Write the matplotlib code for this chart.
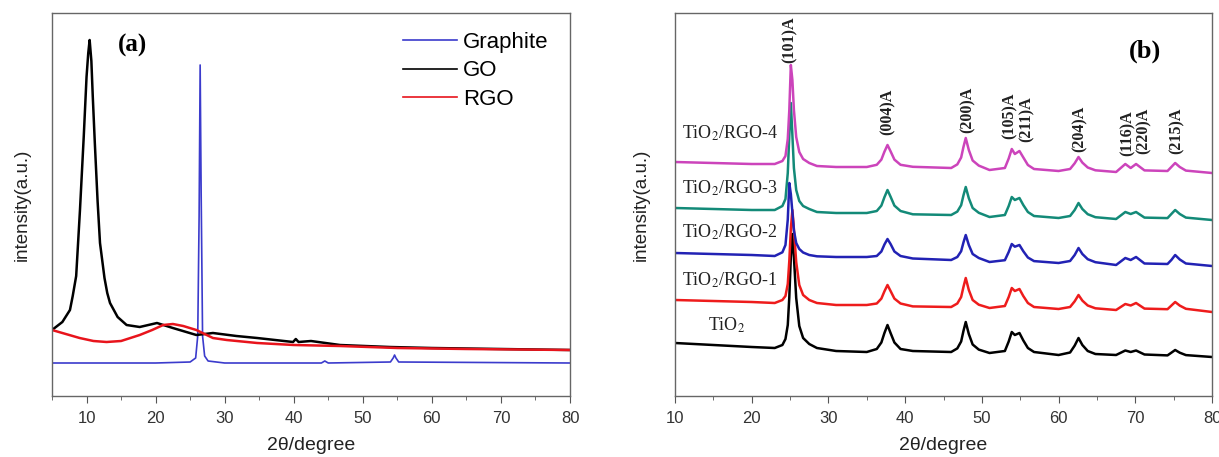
import numpy as np
import matplotlib.pyplot as plt

plt.rcParams['font.family'] = ['Liberation Sans', 'DejaVu Sans']
plt.rcParams['mathtext.fontset'] = 'stix'

# ---- panel (a) data: intensity (arb. units) ----
graphite_x = [5, 20, 25, 25.8, 26.1, 26.3, 26.45, 26.6, 26.8, 27.1, 27.6, 30,
              44, 44.5, 45, 54, 54.4, 54.6, 54.8, 55.2, 80]
graphite_y = [33, 33, 34, 38, 60, 180, 331, 200, 60, 40, 35, 33,
              33, 35, 33, 34, 38, 41, 38, 34, 33]

go_x = [5, 6.5, 7.6, 8.0, 8.5, 9.05, 9.6, 10.0, 10.25, 10.45, 10.7, 10.9, 11.2,
        11.6, 11.95, 12.6, 13.0, 13.4, 14.5, 15.8, 17.7, 20.2, 22.5, 25.9, 28.3,
        31.7, 34.7, 39.9, 40.3, 40.7, 42.5, 46.7, 53.9, 60, 70, 80]
go_y = [66, 74, 86, 100, 120, 186, 260, 319, 343, 356, 335, 300, 253,
        195, 153, 118, 103, 93, 79, 71, 69, 73, 68, 61, 63,
        60, 58, 54, 57, 54, 55, 51, 49, 48, 47, 46]

rgo_x = [5, 7, 9, 11, 12.9, 15, 17.7, 19.5, 21.1, 22.5, 24, 25.9, 28.3, 30.3,
         34.7, 40, 46.7, 55, 65, 80]
rgo_y = [66, 62, 58, 55, 54, 55, 61, 66, 71, 72, 70, 66, 58, 56,
         53, 51, 50, 48, 47, 46]

# ---- panel (b) data: stacked XRD patterns ----
xb = [10, 15, 20, 23, 24, 24.4, 24.7, 24.9, 25.1, 25.3, 25.5, 25.8, 26.2, 26.7,
      27.5, 28.5, 31, 35, 36.3, 36.9, 37.3, 37.7, 38.1, 38.6, 39.4, 41, 46,
      46.8, 47.3, 47.6, 47.9, 48.3, 48.8, 49.6, 51, 53.0, 53.5, 53.9, 54.3,
      54.9, 55.4, 56.0, 56.8, 60, 61.5, 62.1, 62.6, 63.1, 63.8, 64.8, 67.5,
      68.7, 69.4, 70.1, 71.2, 74.2, 74.7, 75.2, 75.8, 76.6, 80]

tio2 = [53, 51, 49, 48, 51, 57, 71, 99, 139, 162, 139, 98, 70, 58,
        52, 48, 45, 44, 47, 53.5, 63, 71, 63, 53.5, 47, 45, 44,
        47.6, 54.5, 65, 74, 62, 51.5, 46.4, 43, 45, 54.5, 64, 61,
        63, 55.6, 48, 44, 41, 43.5, 50.4, 58, 51, 45, 42, 41,
        45.5, 44, 45.5, 41.5, 40.6, 43.3, 46, 43.3, 40.9, 39]
rgo1 = [96, 95, 94, 93, 96, 100, 112, 135, 167, 186, 167, 134, 111, 101,
        96, 93, 91, 91, 92.5, 97.4, 104.7, 111, 105, 97.4, 92.5, 89.6, 89,
        92.5, 99, 109, 118, 106, 96, 91.3, 88, 90, 99, 108, 105,
        107, 100, 93, 89, 87, 89, 94.7, 101, 95.4, 90.5, 87.7, 86,
        92, 90.5, 93, 87.4, 86.8, 90.4, 94, 90.4, 87.2, 84]
rgo2 = [143, 142, 141, 140, 143.7, 151, 176.5, 213, 202, 184, 165.5, 153, 147, 143.5,
        141, 139.7, 139, 139, 140, 144.5, 151.5, 157, 152, 144.5, 140, 137.5, 136,
        139, 144.8, 153.5, 161, 151, 142, 138, 134, 135.8, 144, 152, 149.3,
        151, 144.8, 138.5, 134.9, 133, 135, 141, 148, 142, 136.8, 133.8, 131,
        138, 136, 139, 132.5, 132, 136, 141, 136.5, 132.5, 130]
rgo3 = [188, 187, 186, 186, 190, 197, 223, 261, 293, 261, 228, 206, 195, 190,
        187, 184, 183, 183, 185, 190.4, 198.8, 206, 199.3, 190.4, 185, 181.7, 181,
        184.4, 190.8, 200.6, 209, 197.8, 188, 183.2, 179, 181, 190, 199, 196,
        198, 191, 184, 180, 178, 180, 186, 193, 187, 181.8, 178.8, 177,
        184, 182, 184, 178.4, 177.9, 182, 186, 182, 178.4, 176]
rgo4 = [234, 233, 232, 232, 235, 240, 257, 286, 331, 316, 286, 259, 244, 237,
        233, 230, 229, 229, 231.2, 236.4, 244.3, 251, 244.7, 236.4, 231.2, 229.2, 228,
        231.6, 238.5, 249, 258, 246, 235.5, 230.4, 226, 228, 237.5, 247, 242,
        245, 238.6, 231, 227, 225, 227, 232.7, 239, 233.4, 228.5, 225.7, 224,
        232, 228, 232, 225.6, 225, 229, 233, 229, 225.4, 223]

b_series = [tio2, rgo1, rgo2, rgo3, rgo4]
b_colors = ['black', '#ee1c1c', '#2222b4', '#138a78', '#cc44bb']
b_names = ['TiO$_2$', 'TiO$_2$/RGO-1', 'TiO$_2$/RGO-2', 'TiO$_2$/RGO-3', 'TiO$_2$/RGO-4']
b_name_x = [14.3, 10.9, 10.9, 10.9, 10.9]
b_name_y = [71, 116, 164, 208, 263]

peak_names = ['(101)A', '(004)A', '(200)A', '(105)A', '(211)A', '(204)A', '(116)A', '(220)A', '(215)A']
peak_x = [25.0, 37.7, 48.2, 53.6, 55.8, 62.7, 69.0, 71.1, 75.4]
peak_y = [333, 261, 263, 257, 254, 244, 240, 242, 242]

fig = plt.figure(figsize=(12.19, 4.57), dpi=100)
ax1 = fig.add_axes([52/1219, 61/457, 518/1219, 383/457])
ax2 = fig.add_axes([675/1219, 61/457, 537/1219, 383/457])

# panel (a)
ax = ax1
ax.plot(graphite_x, graphite_y, color='#3b3bcc', lw=1.2, label='Graphite')
ax.plot(go_x, go_y, color='black', lw=1.8, label='GO')
ax.plot(rgo_x, rgo_y, color='#e8141c', lw=1.8, label='RGO')
ax.set_xlim(5, 80)
ax.set_ylim(0, 383)
leg = ax.legend(loc='upper left', bbox_to_anchor=(0.678, 0.95), frameon=False,
                fontsize=16, handlelength=2.43, handletextpad=0.27, labelspacing=0.33,
                borderpad=0, borderaxespad=0)
for ln in leg.get_lines():
    ln.set_linewidth(1.2)
ax.text(0.156, 0.916, '(a)', transform=ax.transAxes, family='Liberation Serif',
        weight='bold', size=18, ha='center', va='center')

# panel (b)
ax = ax2
for ys, c in zip(b_series, b_colors):
    ax.plot(xb, ys, color=c, lw=1.8)
for name, tx, ty in zip(b_names, b_name_x, b_name_y):
    ax.text(tx, ty, name, family='Liberation Serif', size=13, ha='left', va='center', color='#222222')
for name, px, py in zip(peak_names, peak_x, peak_y):
    ax.text(px, py, name, family='Liberation Serif', weight='bold', size=11.5,
            rotation=90, ha='center', va='bottom', color='#222222')
ax.text(0.875, 0.9, '(b)', transform=ax.transAxes, family='Liberation Serif',
        weight='bold', size=19, ha='center', va='center')
ax.set_xlim(10, 80)
ax.set_ylim(0, 383)

for ax in [ax1, ax2]:
    ax.set_yticks([])
    ax.set_xticks(np.arange(10, 81, 10))
    ax.set_xticks(np.arange(5 if ax is ax1 else 15, 80, 10), minor=True)
    ax.tick_params(axis='x', which='major', direction='out', length=5, pad=6,
                   labelsize=12, labelcolor='#333333', color='#555555')
    ax.tick_params(axis='x', which='minor', direction='out', length=3, color='#555555')
    for s in ax.spines.values():
        s.set_color('#666666')
        s.set_linewidth(1.0)

fig.text(22/1219, 1 - 205/457, 'intensity(a.u.)', rotation=90, ha='center', va='center', size=13.5, color='#222222')
fig.text(641/1219, 1 - 205/457, 'intensity(a.u.)', rotation=90, ha='center', va='center', size=13.5, color='#222222')
fig.text(311/1219, 1 - 446/457, '2θ/degree', ha='center', va='center', size=14, color='#222222')
fig.text(943/1219, 1 - 446/457, '2θ/degree', ha='center', va='center', size=14, color='#222222')

plt.savefig('out.png', dpi=100)
